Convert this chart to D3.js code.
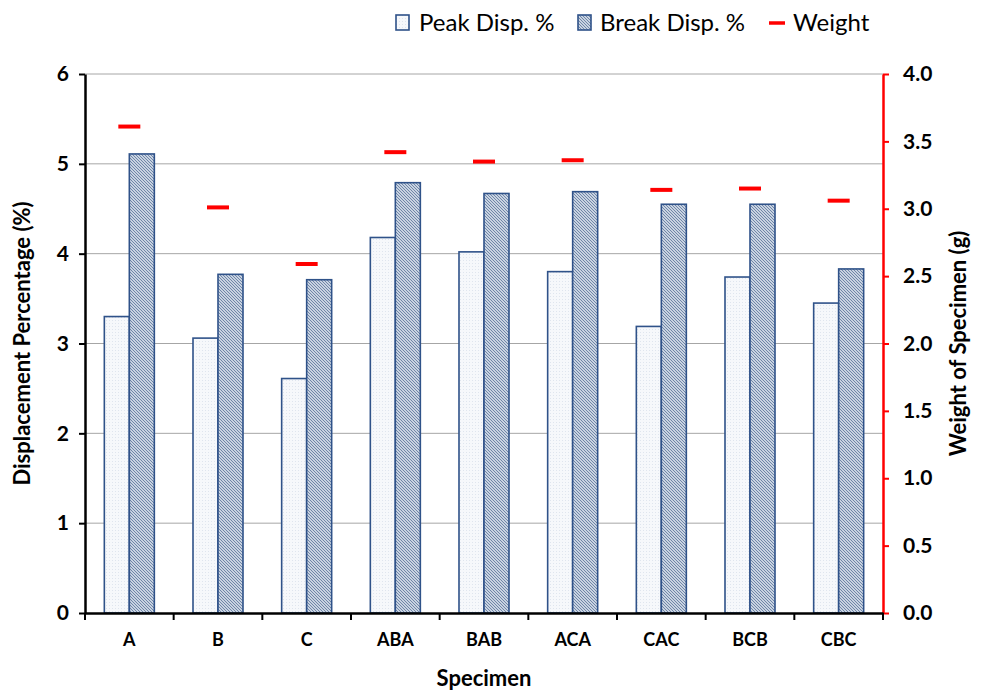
<!DOCTYPE html>
<html>
<head>
<meta charset="utf-8">
<script src="https://cdn.jsdelivr.net/npm/d3@7"></script>
<style>
  body { margin: 0; background: #fff; }
  svg text { font-family: Lato, "Open Sans", sans-serif; }
</style>
</head>
<body>
<div id="chart"></div>
<script>
// data
var specimens = ["A", "B", "C", "ABA", "BAB", "ACA", "CAC", "BCB", "CBC"];
var peakDisp = [3.30, 3.06, 2.61, 4.18, 4.02, 3.80, 3.19, 3.74, 3.45];
var breakDisp = [5.11, 3.77, 3.71, 4.79, 4.67, 4.69, 4.55, 4.55, 3.83];
var weights = [3.61, 3.01, 2.59, 3.42, 3.35, 3.36, 3.14, 3.15, 3.06];
var leftTicks = [0, 1, 2, 3, 4, 5, 6];
var rightTicks = [0, 0.5, 1, 1.5, 2, 2.5, 3, 3.5, 4];

var W = 986, H = 691;
var margin = {top: 74, right: 103, bottom: 78, left: 85},
    width = W - margin.left - margin.right,
    height = H - margin.top - margin.bottom;

var svg = d3.select("#chart").append("svg")
    .attr("width", W).attr("height", H);

var defs = svg.append("defs");
// light dotted fill for peak bars
var p1 = defs.append("pattern").attr("id", "peakFill")
    .attr("width", 3).attr("height", 3).attr("patternUnits", "userSpaceOnUse");
p1.append("rect").attr("width", 3).attr("height", 3).attr("fill", "#f6f8fb");
p1.append("rect").attr("width", 1).attr("height", 1).attr("fill", "#dfe5ee");
// diagonal hatch for break bars
var p2 = defs.append("pattern").attr("id", "breakFill")
    .attr("width", 3).attr("height", 3).attr("patternUnits", "userSpaceOnUse");
p2.append("rect").attr("width", 3).attr("height", 3).attr("fill", "#c9d3e1");
p2.append("path").attr("d", "M0,0 L3,3 M-1,2 L1,4 M2,-1 L4,1")
    .attr("stroke", "#6f86a8").attr("stroke-width", 1);

var g = svg.append("g").attr("transform", `translate(${margin.left},${margin.top})`);

var x = d3.scaleBand().domain(specimens).range([0, width]);
var y = d3.scaleLinear().domain([0, 6]).range([height, 0]);
var y2 = d3.scaleLinear().domain([0, 4]).range([height, 0]);

// gridlines
g.selectAll(".grid").data(leftTicks.slice(1)).join("line")
    .attr("x1", 0).attr("x2", width)
    .attr("y1", d => y(d)).attr("y2", d => y(d))
    .attr("stroke", "#a6a6a6").attr("stroke-width", 1);

var barW = 25;
var cats = specimens.map((s, i) => ({s: s, peak: peakDisp[i], brk: breakDisp[i], w: weights[i]}));

g.selectAll(".peak").data(cats).join("rect")
    .attr("x", d => x(d.s) + x.bandwidth() / 2 - barW)
    .attr("y", d => y(d.peak))
    .attr("width", barW).attr("height", d => height - y(d.peak))
    .attr("fill", "url(#peakFill)").attr("stroke", "#2f5289").attr("stroke-width", 1.6);

g.selectAll(".brk").data(cats).join("rect")
    .attr("x", d => x(d.s) + x.bandwidth() / 2)
    .attr("y", d => y(d.brk))
    .attr("width", barW).attr("height", d => height - y(d.brk))
    .attr("fill", "url(#breakFill)").attr("stroke", "#2f5289").attr("stroke-width", 1.6);

// weight markers
g.selectAll(".wt").data(cats).join("line")
    .attr("x1", d => x(d.s) + x.bandwidth() / 2 - 11)
    .attr("x2", d => x(d.s) + x.bandwidth() / 2 + 11)
    .attr("y1", d => y2(d.w)).attr("y2", d => y2(d.w))
    .attr("stroke", "#ff0000").attr("stroke-width", 4);

// axes
var yAxis = g.append("g")
    .call(d3.axisLeft(y).tickValues(leftTicks).tickFormat(d3.format("d")).tickSize(6).tickSizeOuter(0).tickPadding(10));
yAxis.select(".domain").attr("stroke", "#000").attr("stroke-width", 2.5);
yAxis.selectAll(".tick line").attr("stroke", "#000").attr("stroke-width", 2);
yAxis.selectAll("text").attr("font-size", 21).attr("font-weight", "bold").attr("fill", "#000");

var y2Axis = g.append("g").attr("transform", `translate(${width},0)`)
    .call(d3.axisRight(y2).tickValues(rightTicks).tickFormat(d3.format(".1f")).tickSize(6).tickSizeOuter(0).tickPadding(14));
y2Axis.select(".domain").attr("stroke", "#ff0000").attr("stroke-width", 2.5);
y2Axis.selectAll(".tick line").attr("stroke", "#ff0000").attr("stroke-width", 2);
y2Axis.selectAll("text").attr("font-size", 21).attr("font-weight", "bold").attr("fill", "#000");

var xAxis = g.append("g").attr("transform", `translate(0,${height})`)
    .call(d3.axisBottom(x).tickSize(0).tickPadding(20));
xAxis.select(".domain").attr("stroke", "#000").attr("stroke-width", 2.5);
xAxis.selectAll("text").attr("font-size", 18).attr("font-weight", "bold").attr("fill", "#000");
// category boundary ticks
g.selectAll(".xtick").data(d3.range(specimens.length + 1)).join("line")
    .attr("x1", d => d * x.step()).attr("x2", d => d * x.step())
    .attr("y1", height).attr("y2", height + 7)
    .attr("stroke", "#000").attr("stroke-width", 2);

// axis titles
svg.append("text")
    .attr("transform", `translate(30,${margin.top + height / 2}) rotate(-90)`)
    .attr("text-anchor", "middle").attr("font-size", 22).attr("font-weight", "bold")
    .text("Displacement Percentage (%)");
svg.append("text")
    .attr("transform", `translate(966,${margin.top + height / 2}) rotate(-90)`)
    .attr("text-anchor", "middle").attr("font-size", 22).attr("font-weight", "bold")
    .text("Weight of Specimen (g)");
svg.append("text")
    .attr("x", margin.left + width / 2).attr("y", 686)
    .attr("text-anchor", "middle").attr("font-size", 22).attr("font-weight", "bold")
    .text("Specimen");

// legend
var legend = svg.append("g");
legend.append("rect").attr("x", 396).attr("y", 15).attr("width", 13).attr("height", 15)
    .attr("fill", "url(#peakFill)").attr("stroke", "#2f5289").attr("stroke-width", 1.6);
legend.append("text").attr("x", 419).attr("y", 31).attr("font-size", 24).text("Peak Disp. %");
legend.append("rect").attr("x", 578).attr("y", 15).attr("width", 13).attr("height", 15)
    .attr("fill", "url(#breakFill)").attr("stroke", "#2f5289").attr("stroke-width", 1.6);
legend.append("text").attr("x", 600).attr("y", 31).attr("font-size", 24).text("Break Disp. %");
legend.append("line").attr("x1", 769).attr("x2", 785).attr("y1", 23).attr("y2", 23)
    .attr("stroke", "#ff0000").attr("stroke-width", 3.5);
legend.append("text").attr("x", 793).attr("y", 31).attr("font-size", 24).text("Weight");
</script>
</body>
</html>
